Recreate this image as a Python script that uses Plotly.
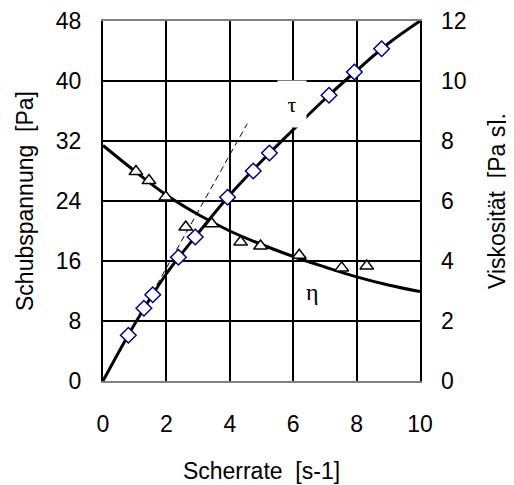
import plotly.graph_objects as go

# Measured shear stress (diamonds)
rate_tau = [0.80, 1.29, 1.57, 2.38, 2.91, 3.93, 4.74, 5.25, 7.13, 7.93, 8.79]
tau_vals = [6.1, 9.7, 11.5, 16.5, 19.2, 24.5, 28.0, 30.4, 38.1, 41.2, 44.3]

# Measured viscosity (triangles)
rate_eta = [1.04, 1.45, 1.98, 2.61, 3.43, 4.34, 4.97, 6.19, 7.53, 8.32]
eta_vals = [6.98, 6.68, 6.13, 5.13, 5.24, 4.63, 4.5, 4.19, 3.77, 3.83]

# Fit curves
fit_rate = [0, 1, 2, 3, 4, 5, 6, 7, 8, 9, 10]
fit_tau = [0, 7.6, 14.3, 19.7, 24.8, 29.3, 33.5, 37.6, 41.4, 45.0, 48]
fit_eta = [7.85, 7.0, 6.2, 5.55, 5.0, 4.55, 4.15, 3.8, 3.47, 3.2, 2.98]

# Initial tangent (dashed)
tan_rate = [0, 4.55]
tan_tau = [0, 34.3]

x_ticks = [0, 2, 4, 6, 8, 10]
y_ticks = [0, 8, 16, 24, 32, 40, 48]
y2_ticks = [0, 2, 4, 6, 8, 10, 12]

FONT = "Liberation Sans, Arial, sans-serif"
SERIF = "Liberation Serif, Times New Roman, serif"
FS = 23

fig = go.Figure()
fig.add_trace(go.Scatter(x=tan_rate, y=tan_tau, mode="lines",
                         line=dict(color="black", width=1, dash="6px,4px"),
                         showlegend=False, hoverinfo="skip"))
fig.add_trace(go.Scatter(x=fit_rate, y=fit_tau, mode="lines", line_shape="spline",
                         line=dict(color="black", width=3), showlegend=False))
fig.add_trace(go.Scatter(x=rate_tau, y=tau_vals, mode="markers",
                         marker=dict(symbol="diamond", size=12, color="white",
                                     line=dict(color="#000080", width=1.5)),
                         showlegend=False))
fig.add_trace(go.Scatter(x=fit_rate, y=fit_eta, mode="lines", line_shape="spline",
                         line=dict(color="black", width=3), yaxis="y2", showlegend=False))
fig.add_trace(go.Scatter(x=rate_eta, y=eta_vals, mode="markers",
                         marker=dict(symbol="triangle-up", size=12, color="white",
                                     line=dict(color="black", width=1.5)),
                         yaxis="y2", showlegend=False))

fig.add_annotation(x=6.0, y=36.9, xref="x", yref="y", text="τ", showarrow=False,
                   font=dict(family=SERIF, size=22, color="black"),
                   bgcolor="white", width=26, height=44, xshift=-1)
fig.add_annotation(x=6.62, y=11.9, xref="x", yref="y", text="η", showarrow=False,
                   font=dict(family=SERIF, size=24, color="black"))

fig.update_layout(
    width=514, height=485,
    margin=dict(l=95, r=102, t=13, b=112, autoexpand=False),
    paper_bgcolor="white", plot_bgcolor="white",
    font=dict(family=FONT, size=FS, color="black"),
    xaxis=dict(range=[0, 10], tickvals=x_ticks, showgrid=True, gridcolor="black", gridwidth=1.5,
               zeroline=False, showline=True, linecolor="#808080", linewidth=2, mirror=True,
               ticks="", ticklabelstandoff=21, automargin=False,
               title=dict(text="Scherrate\u00a0\u00a0[s-1]", standoff=27, font=dict(size=FS))),
    yaxis=dict(range=[0, 48], tickvals=y_ticks, showgrid=True, gridcolor="black", gridwidth=1.5,
               zeroline=False, showline=True, linecolor="black", linewidth=2, mirror=True,
               ticks="", ticklabelstandoff=15, automargin=False,
               title=dict(text="Schubspannung\u00a0\u00a0[Pa]", standoff=16, font=dict(size=FS))),
    yaxis2=dict(range=[0, 12], tickvals=y2_ticks, overlaying="y", side="right", showgrid=False,
                zeroline=False, showline=False, ticks="", ticklabelstandoff=20, automargin=False,
                title=dict(text="Viskosität\u00a0\u00a0[Pa\u00a0s].", standoff=23, font=dict(size=FS))),
)

fig.write_html("out.html")
